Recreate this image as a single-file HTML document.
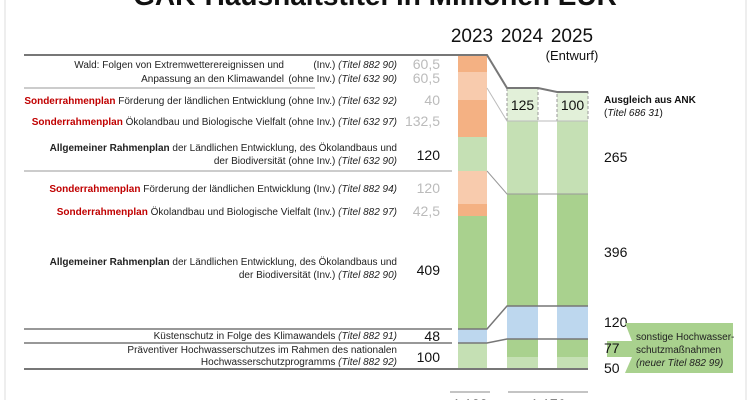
<!DOCTYPE html>
<html><head><meta charset="utf-8"><style>
html,body{margin:0;padding:0;background:#fff;}
svg{display:block;font-family:"Liberation Sans",sans-serif;}
.l{font-size:10px;fill:#222;}
.r{fill:#c00000;font-weight:bold;}
.b{font-weight:bold;}
.i{font-style:italic;}
.v{font-size:14px;fill:#111;text-anchor:end;}
.g{fill:#bbb;}
</style></head><body>
<svg width="750" height="400" viewBox="0 0 750 400" xmlns="http://www.w3.org/2000/svg">
<rect x="0" y="0" width="750" height="400" fill="#fff"/>
<line x1="5" y1="0" x2="5" y2="400" stroke="#ddd" stroke-width="1"/>
<line x1="746" y1="0" x2="746" y2="400" stroke="#ddd" stroke-width="1"/>
<text x="375" y="5" font-size="28" font-weight="bold" text-anchor="middle" fill="#111">GAK-Haushaltstitel in Millionen EUR</text>

<g font-size="19" text-anchor="middle" fill="#111">
<text x="472" y="42">2023</text><text x="522" y="42">2024</text><text x="572" y="42">2025</text>
</g>
<text x="572" y="60" font-size="13" text-anchor="middle" fill="#111">(Entwurf)</text>

<rect x="458" y="55" width="29" height="17" fill="#f4b183"/>
<rect x="458" y="72" width="29" height="16" fill="#f8cbad"/>
<rect x="458" y="88" width="29" height="12" fill="#f8cbad"/>
<rect x="458" y="100" width="29" height="37" fill="#f4b183"/>
<rect x="458" y="137" width="29" height="34" fill="#c5e0b4"/>
<rect x="458" y="171" width="29" height="33" fill="#f8cbad"/>
<rect x="458" y="204" width="29" height="12" fill="#f4b183"/>
<rect x="458" y="216" width="29" height="113" fill="#a9d18e"/>
<rect x="458" y="329" width="29" height="14" fill="#bdd7ee"/>
<rect x="458" y="343" width="29" height="26" fill="#c5e0b4"/>

<rect x="507" y="88" width="31" height="33" fill="#e2f0d9" stroke="#999" stroke-dasharray="3,2"/>
<rect x="507" y="121" width="31" height="73" fill="#c5e0b4"/>
<rect x="507" y="194" width="31" height="112" fill="#a9d18e"/>
<rect x="507" y="306" width="31" height="33" fill="#bdd7ee"/>
<rect x="507" y="339" width="31" height="18" fill="#a9d18e"/>
<rect x="507" y="357" width="31" height="12" fill="#c5e0b4"/>
<rect x="557" y="92" width="31" height="29" fill="#e2f0d9" stroke="#999" stroke-dasharray="3,2"/>
<rect x="557" y="121" width="31" height="73" fill="#c5e0b4"/>
<rect x="557" y="194" width="31" height="112" fill="#a9d18e"/>
<rect x="557" y="306" width="31" height="33" fill="#bdd7ee"/>
<rect x="557" y="339" width="31" height="18" fill="#a9d18e"/>
<rect x="557" y="357" width="31" height="12" fill="#c5e0b4"/>
<text x="522.5" y="110" font-size="14" text-anchor="middle" fill="#111">125</text>
<text x="572.5" y="110" font-size="14" text-anchor="middle" fill="#111">100</text>

<polyline points="24,55 487,55 507,88 538,88 557,92 588,92" fill="none" stroke="#777" stroke-width="2"/>
<line x1="24" y1="88" x2="315" y2="88" stroke="#999" stroke-width="1"/>
<polyline points="487,88 507,121 588,121" fill="none" stroke="#bbb" stroke-width="1"/>
<line x1="24" y1="171" x2="452" y2="171" stroke="#999" stroke-width="1"/>
<polyline points="487,171 507,194 588,194" fill="none" stroke="#999" stroke-width="1"/>
<line x1="24" y1="329" x2="452" y2="329" stroke="#777" stroke-width="1.5"/>
<polyline points="458,329 487,329 507,306 588,306" fill="none" stroke="#777" stroke-width="1.5"/>
<line x1="24" y1="343" x2="452" y2="343" stroke="#777" stroke-width="1.5"/>
<polyline points="458,343 487,343 507,339 588,339" fill="none" stroke="#777" stroke-width="1.5"/>
<line x1="24" y1="369" x2="588" y2="369" stroke="#777" stroke-width="2"/>
<line x1="450" y1="392" x2="490" y2="392" stroke="#888" stroke-width="1"/>
<line x1="508" y1="392" x2="588" y2="392" stroke="#888" stroke-width="1"/>
<text x="470" y="409" font-size="14" text-anchor="middle" fill="#111">1.122</text>
<text x="548" y="409" font-size="14" text-anchor="middle" fill="#111">1.176</text>

<g class="l">
<text x="284" y="68" text-anchor="end">Wald: Folgen von Extremwetterereignissen und</text>
<text x="397" y="68" text-anchor="end">(Inv.) <tspan class="i">(Titel 882 90)</tspan></text>
<text x="284" y="82" text-anchor="end">Anpassung an den Klimawandel</text>
<text x="397" y="82" text-anchor="end">(ohne Inv.) <tspan class="i">(Titel 632 90)</tspan></text>
<text x="397" y="104" text-anchor="end"><tspan class="r">Sonderrahmenplan</tspan> Förderung der ländlichen Entwicklung (ohne Inv.) <tspan class="i">(Titel 632 92)</tspan></text>
<text x="397" y="125" text-anchor="end"><tspan class="r">Sonderrahmenplan</tspan> Ökolandbau und Biologische Vielfalt (ohne Inv.) <tspan class="i">(Titel 632 97)</tspan></text>
<text x="397" y="151" text-anchor="end"><tspan class="b">Allgemeiner Rahmenplan</tspan> der Ländlichen Entwicklung, des Ökolandbaus und</text>
<text x="397" y="164" text-anchor="end">der Biodiversität (ohne Inv.) <tspan class="i">(Titel 632 90)</tspan></text>
<text x="397" y="192" text-anchor="end"><tspan class="r">Sonderrahmenplan</tspan> Förderung der ländlichen Entwicklung (Inv.) <tspan class="i">(Titel 882 94)</tspan></text>
<text x="397" y="215" text-anchor="end"><tspan class="r">Sonderrahmenplan</tspan> Ökolandbau und Biologische Vielfalt (Inv.) <tspan class="i">(Titel 882 97)</tspan></text>
<text x="397" y="265" text-anchor="end"><tspan class="b">Allgemeiner Rahmenplan</tspan> der Ländlichen Entwicklung, des Ökolandbaus und</text>
<text x="397" y="278" text-anchor="end">der Biodiversität (Inv.) <tspan class="i">(Titel 882 90)</tspan></text>
<text x="397" y="339" text-anchor="end">Küstenschutz in Folge des Klimawandels <tspan class="i">(Titel 882 91)</tspan></text>
<text x="397" y="353" text-anchor="end">Präventiver Hochwasserschutzes im Rahmen des nationalen</text>
<text x="397" y="365" text-anchor="end">Hochwasserschutzprogramms <tspan class="i">(Titel 882 92)</tspan></text>
</g>
<text class="v g" x="440" y="69">60,5</text>
<text class="v g" x="440" y="83">60,5</text>
<text class="v g" x="440" y="105">40</text>
<text class="v g" x="440" y="126">132,5</text>
<text class="v" x="440" y="160">120</text>
<text class="v g" x="440" y="193">120</text>
<text class="v g" x="440" y="216">42,5</text>
<text class="v" x="440" y="275">409</text>
<text class="v" x="440" y="341">48</text>
<text class="v" x="440" y="362">100</text>

<text x="604" y="103" font-size="10" font-weight="bold" fill="#111">Ausgleich aus ANK</text>
<text x="604" y="116" font-size="10" fill="#111">(<tspan font-style="italic">Titel 686 31</tspan>)</text>
<g font-size="14" fill="#111">
<text x="604" y="162">265</text>
<text x="604" y="257">396</text>
<text x="604" y="327">120</text>
<text x="604" y="373">50</text>
</g>
<polygon points="625,323 733,323 733,373 625,373 632,357 607,357 607,341 632,341" fill="#a9d18e"/>
<text x="604" y="353" font-size="14" fill="#111">77</text>
<g font-size="10" fill="#222">
<text x="636" y="340">sonstige Hochwasser-</text>
<text x="636" y="353">schutzmaßnahmen</text>
<text x="636" y="366" font-style="italic">(neuer Titel 882 99)</text>
</g>
</svg>
</body></html>
